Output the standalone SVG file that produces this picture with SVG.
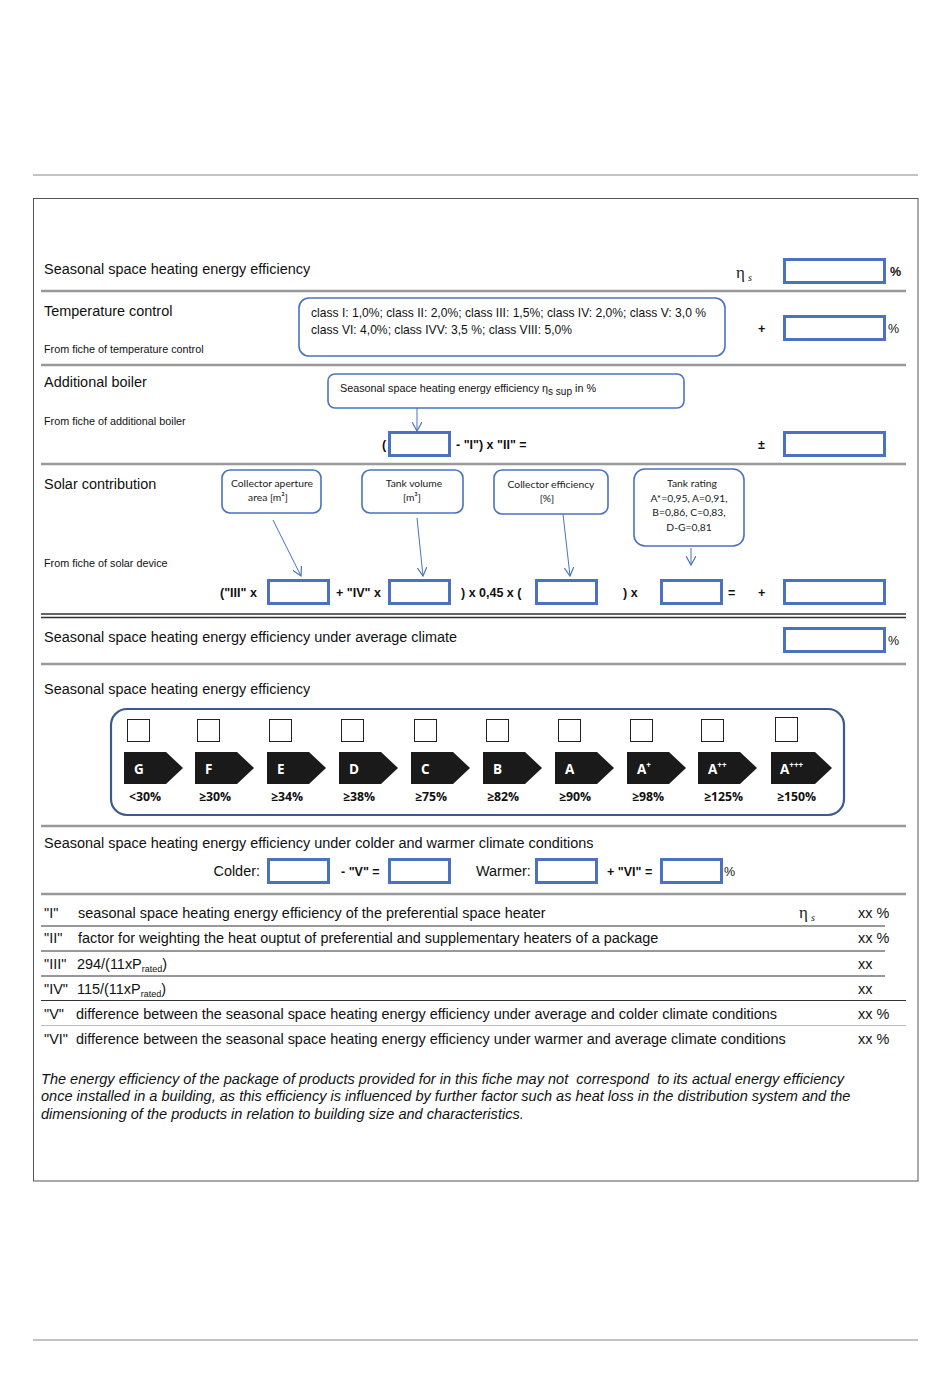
<svg xmlns="http://www.w3.org/2000/svg" width="950" height="1378" viewBox="0 0 950 1378">
<style>
.t{font-family:"Liberation Sans",Arial,sans-serif;fill:#111}
.h{font-size:14.45px}
.s{font-size:10.8px}
.k{font-size:12.1px}
.m{font-size:12.5px}
.b{font-weight:bold}
.c{font-family:Lato,"Open Sans",sans-serif;font-size:10.3px;fill:#222}
.box{fill:#fff;stroke:#4a72c0;stroke-width:3}
.call{fill:#fff;stroke:#4a72c0;stroke-width:1.6}
.sep{stroke:#999;stroke-width:2.5}
.tl{stroke:#333;stroke-width:1.2}
.ar{stroke:#4a72c0;stroke-width:1;fill:none}
.chk{fill:#fff;stroke:#222;stroke-width:1}
.tag{fill:#1a1a1a}
.lt{font-family:"Open Sans",Lato,sans-serif;font-weight:bold;fill:#fff;font-size:13.5px}
.pc{font-family:"Open Sans",Lato,sans-serif;font-weight:bold;fill:#111;font-size:12.3px}
.eta{font-family:"Liberation Serif",serif;font-size:17px;fill:#222}
</style>
<defs>
<marker id="arr" viewBox="0 0 10 10" refX="9" refY="5" markerWidth="10" markerHeight="10" orient="auto" markerUnits="userSpaceOnUse">
<path d="M0,0 L9,5 L0,10" fill="none" stroke="#4a72c0" stroke-width="1.2"/>
</marker>
</defs>
<rect width="950" height="1378" fill="#fff"/>
<line x1="33" y1="175" x2="918" y2="175" stroke="#888" stroke-width="1"/>
<line x1="33" y1="1340" x2="918" y2="1340" stroke="#888" stroke-width="1"/>
<rect x="33.5" y="198.5" width="884.5" height="982.5" fill="none" stroke="#555" stroke-width="1"/>

<g id="separators">
<line class="sep" x1="41" y1="291" x2="906" y2="291"/>
<line class="sep" x1="41" y1="365" x2="906" y2="365"/>
<line class="sep" x1="41" y1="464" x2="906" y2="464"/>
<line stroke="#333" stroke-width="1.3" x1="41" y1="614" x2="906" y2="614"/>
<line stroke="#333" stroke-width="1.3" x1="41" y1="617.5" x2="906" y2="617.5"/>
<line class="sep" x1="41" y1="664" x2="906" y2="664"/>
<line class="sep" x1="41" y1="826" x2="906" y2="826"/>
<line class="sep" x1="41" y1="894" x2="906" y2="894"/>
</g>

<g id="row-seasonal">
<text class="t h" x="44" y="274">Seasonal space heating energy efficiency</text>
<text class="eta" x="736" y="278">η<tspan font-size="10" font-style="italic" dx="3" dy="3">s</tspan></text>
<rect class="box" x="784.5" y="259.5" width="100" height="23"/>
<text class="t m b" x="890" y="276">%</text>
</g>

<g id="row-temperature">
<text class="t h" x="44" y="316">Temperature control</text>
<text class="t s" x="44" y="353">From fiche of temperature control</text>
<rect class="call" x="299" y="298" width="426" height="58" rx="10"/>
<text class="t k" x="311" y="317">class I: 1,0%; class II: 2,0%; class III: 1,5%; class IV: 2,0%; class V: 3,0 %</text>
<text class="t k" x="311" y="334">class VI: 4,0%; class IVV: 3,5 %; class VIII: 5,0%</text>
<text class="t m b" x="758" y="333">+</text>
<rect class="box" x="784.5" y="316.5" width="100" height="23"/>
<text class="t m" x="888" y="333">%</text>
</g>

<g id="row-boiler">
<text class="t h" x="44" y="387">Additional boiler</text>
<text class="t s" x="44" y="425">From fiche of additional boiler</text>
<rect class="call" x="328" y="374" width="356" height="34" rx="7"/>
<text class="t s" x="340" y="392">Seasonal space heating energy efficiency η<tspan font-size="10" dy="3">s sup</tspan><tspan dy="-3"> in %</tspan></text>
<text class="t m b" x="382" y="449">(</text>
<rect class="box" x="389.5" y="432.5" width="60" height="23"/>
<text class="t m b" x="456" y="449">- "I") x "II" =</text>
<text class="t m b" x="758" y="449">±</text>
<rect class="box" x="784.5" y="432.5" width="100" height="23"/>
</g>

<g id="row-solar">
<text class="t h" x="44" y="489">Solar contribution</text>
<text class="t s" x="44" y="567">From fiche of solar device</text>
<rect class="call" x="222" y="470" width="99" height="43" rx="8"/>
<text class="c" x="272" y="487" text-anchor="middle">Collector aperture</text>
<text class="c" x="268" y="501" text-anchor="middle">area [m²]</text>
<rect class="call" x="362" y="470" width="101" height="43" rx="8"/>
<text class="c" x="414" y="487" text-anchor="middle">Tank volume</text>
<text class="c" x="412" y="501" text-anchor="middle">[m³]</text>
<rect class="call" x="494" y="470" width="114" height="44" rx="8"/>
<text class="c" x="551" y="488" text-anchor="middle">Collector efficiency</text>
<text class="c" x="547" y="502" text-anchor="middle">[%]</text>
<rect class="call" x="634" y="469" width="110" height="77" rx="11"/>
<text class="c" x="692" y="487" text-anchor="middle">Tank rating</text>
<text class="c" x="689" y="502" text-anchor="middle" font-size="10.8">A*=0,95, A=0,91,</text>
<text class="c" x="689" y="516" text-anchor="middle" font-size="10.8">B=0,86, C=0,83,</text>
<text class="c" x="689" y="531" text-anchor="middle" font-size="10.8">D-G=0,81</text>
<text class="t m b" x="220" y="597">("III" x</text>
<rect class="box" x="268.5" y="580.5" width="60" height="23"/>
<text class="t m b" x="336" y="597">+ "IV" x</text>
<rect class="box" x="389.5" y="580.5" width="60" height="23"/>
<text class="t m b" x="461" y="597">) x 0,45 x (</text>
<rect class="box" x="536.5" y="580.5" width="60" height="23"/>
<text class="t m b" x="623" y="597">) x</text>
<rect class="box" x="661.5" y="580.5" width="60" height="23"/>
<text class="t m b" x="728" y="597">=</text>
<text class="t m b" x="758" y="597">+</text>
<rect class="box" x="784.5" y="580.5" width="100" height="23"/>
</g>

<g id="row-average">
<text class="t h" x="44" y="642">Seasonal space heating energy efficiency under average climate</text>
<rect class="box" x="784.5" y="628.5" width="100" height="23"/>
<text class="t m" x="888" y="645">%</text>
</g>

<g id="energy-classes">
<text class="t h" x="44" y="694">Seasonal space heating energy efficiency</text>
<rect x="111" y="709" width="733" height="106" rx="16" fill="#fff" stroke="#3d5a8c" stroke-width="2.2"/>
<g id="cls-G"><rect class="chk" x="127.5" y="719.5" width="22" height="22"/><path class="tag" d="M124,752 H166 L183,768 L166,784 H124 Z"/><text class="lt" x="134" y="774">G</text><text class="pc" x="129" y="801">&lt;30%</text></g>
<g id="cls-F"><rect class="chk" x="197.5" y="719.5" width="22" height="22"/><path class="tag" d="M195,752 H237 L254,768 L237,784 H195 Z"/><text class="lt" x="205" y="774">F</text><text class="pc" x="199" y="801">≥30%</text></g>
<g id="cls-E"><rect class="chk" x="269.5" y="719.5" width="22" height="22"/><path class="tag" d="M267,752 H309 L326,768 L309,784 H267 Z"/><text class="lt" x="277" y="774">E</text><text class="pc" x="271" y="801">≥34%</text></g>
<g id="cls-D"><rect class="chk" x="341.5" y="719.5" width="22" height="22"/><path class="tag" d="M339,752 H381 L398,768 L381,784 H339 Z"/><text class="lt" x="349" y="774">D</text><text class="pc" x="343" y="801">≥38%</text></g>
<g id="cls-C"><rect class="chk" x="414.5" y="719.5" width="22" height="22"/><path class="tag" d="M411,752 H453 L470,768 L453,784 H411 Z"/><text class="lt" x="421" y="774">C</text><text class="pc" x="415" y="801">≥75%</text></g>
<g id="cls-B"><rect class="chk" x="486.5" y="719.5" width="22" height="22"/><path class="tag" d="M483,752 H525 L542,768 L525,784 H483 Z"/><text class="lt" x="493" y="774">B</text><text class="pc" x="487" y="801">≥82%</text></g>
<g id="cls-A"><rect class="chk" x="558.5" y="719.5" width="22" height="22"/><path class="tag" d="M555,752 H597 L614,768 L597,784 H555 Z"/><text class="lt" x="565" y="774">A</text><text class="pc" x="559" y="801">≥90%</text></g>
<g id="cls-A1"><rect class="chk" x="630.5" y="719.5" width="22" height="22"/><path class="tag" d="M627,752 H669 L686,768 L669,784 H627 Z"/><text class="lt" x="637" y="774">A<tspan font-size="8" dy="-6">+</tspan></text><text class="pc" x="632" y="801">≥98%</text></g>
<g id="cls-A2"><rect class="chk" x="701.5" y="719.5" width="22" height="22"/><path class="tag" d="M698,752 H740 L757,768 L740,784 H698 Z"/><text class="lt" x="708" y="774">A<tspan font-size="8" dy="-6">++</tspan></text><text class="pc" x="704" y="801">≥125%</text></g>
<g id="cls-A3"><rect class="chk" x="775.5" y="717.5" width="22" height="24"/><path class="tag" d="M771,752 H815 L832,768 L815,784 H771 Z"/><text class="lt" x="780" y="774">A<tspan font-size="8" dy="-6">+++</tspan></text><text class="pc" x="777" y="801">≥150%</text></g>
</g>

<g id="row-climate">
<text class="t h" x="44" y="848">Seasonal space heating energy efficiency under colder and warmer climate conditions</text>
<text class="t h" x="260" y="876" text-anchor="end">Colder:</text>
<rect class="box" x="268.5" y="859.5" width="60" height="23"/>
<text class="t m b" x="341" y="876">- "V" =</text>
<rect class="box" x="389.5" y="859.5" width="60" height="23"/>
<text class="t h" x="476" y="876">Warmer:</text>
<rect class="box" x="536.5" y="859.5" width="60" height="23"/>
<text class="t m b" x="607" y="876">+ "VI" =</text>
<rect class="box" x="661.5" y="859.5" width="60" height="23"/>
<text class="t m" x="724" y="876">%</text>
</g>

<g id="legend">
<text class="t h" x="44" y="918">"I"</text>
<text class="t h" x="78" y="918">seasonal space heating energy efficiency of the preferential space heater</text>
<text class="eta" x="799" y="918">η<tspan font-size="10" font-style="italic" dx="3" dy="3">s</tspan></text>
<text class="t h" x="858" y="918">xx %</text>
<line class="tl" x1="41" y1="926" x2="885" y2="926"/>
<text class="t h" x="44" y="943">"II"</text>
<text class="t h" x="78" y="943">factor for weighting the heat ouptut of preferential and supplementary heaters of a package</text>
<text class="t h" x="858" y="943">xx %</text>
<line class="tl" x1="41" y1="951" x2="885" y2="951"/>
<text class="t h" x="44" y="969">"III"</text>
<text class="t h" x="77" y="969">294/(11xP<tspan font-size="9" dy="3">rated</tspan><tspan dy="-3">)</tspan></text>
<text class="t h" x="858" y="969">xx</text>
<line class="tl" x1="41" y1="976" x2="885" y2="976"/>
<text class="t h" x="44" y="994">"IV"</text>
<text class="t h" x="77" y="994">115/(11xP<tspan font-size="9" dy="3">rated</tspan><tspan dy="-3">)</tspan></text>
<text class="t h" x="858" y="994">xx</text>
<line class="tl" x1="41" y1="1000.5" x2="906" y2="1000.5"/>
<text class="t h" x="44" y="1019">"V"</text>
<text class="t h" x="76" y="1019">difference between the seasonal space heating energy efficiency under average and colder climate conditions</text>
<text class="t h" x="858" y="1019">xx %</text>
<line stroke="#bbb" stroke-width="1" x1="41" y1="1025.5" x2="906" y2="1025.5"/>
<text class="t h" x="44" y="1044">"VI"</text>
<text class="t h" x="76" y="1044">difference between the seasonal space heating energy efficiency under warmer and average climate conditions</text>
<text class="t h" x="858" y="1044">xx %</text>
</g>

<g id="note" font-style="italic">
<text class="t" font-size="14.55" x="41" y="1084" font-style="italic" xml:space="preserve">The energy efficiency of the package of products provided for in this fiche may not  correspond  to its actual energy efficiency</text>
<text class="t" font-size="14.55" x="41" y="1101" font-style="italic">once installed in a building, as this efficiency is influenced by further factor such as heat loss in the distribution system and the</text>
<text class="t" font-size="14.55" x="41" y="1119" font-style="italic">dimensioning of the products in relation to building size and characteristics.</text>
</g>

<g id="connectors">
<line class="ar" x1="417" y1="408" x2="417" y2="431" marker-end="url(#arr)"/>
<line class="ar" x1="273" y1="520" x2="301" y2="576" marker-end="url(#arr)"/>
<line class="ar" x1="417" y1="518" x2="423" y2="576" marker-end="url(#arr)"/>
<line class="ar" x1="563" y1="514" x2="570" y2="576" marker-end="url(#arr)"/>
<line class="ar" x1="691" y1="548" x2="691" y2="565" marker-end="url(#arr)"/>
</g>
</svg>
